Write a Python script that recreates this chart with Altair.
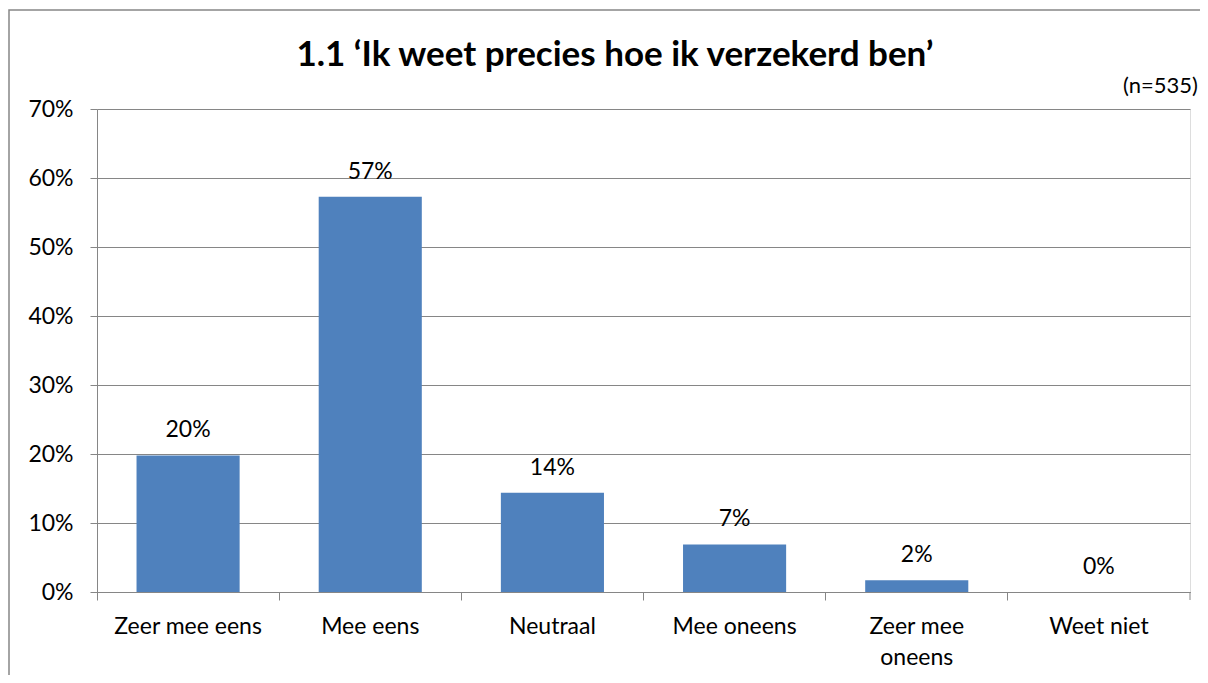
import altair as alt
import pandas as pd

categories = ["Zeer mee eens", "Mee eens", "Neutraal", "Mee oneens", "Zeer mee oneens", "Weet niet"]
values = [0.198, 0.573, 0.144, 0.069, 0.017, 0.0]
y_ticks = [0, 0.1, 0.2, 0.3, 0.4, 0.5, 0.6, 0.7]
title_text = "1.1 \u2018Ik weet precies hoe ik verzekerd ben\u2019"
note_text = "(n=535)"

df = pd.DataFrame({"cat": categories, "val": values})

W, H = 1093, 483
FONT = "Lato"
GRAY = "#868686"
BLUE = "#4F81BD"
FS = 23

xscale = alt.Scale(domain=categories, paddingInner=0, paddingOuter=0)
label_expr = "datum.value == 'Zeer mee oneens' ? ['Zeer mee', 'oneens'] : datum.value"

yenc = alt.Y(
    "val:Q",
    scale=alt.Scale(domain=[0, 0.7]),
    axis=alt.Axis(values=y_ticks, format=".0%", title=None, grid=True, gridColor=GRAY,
                  gridWidth=1, domainColor=GRAY, tickColor=GRAY, tickSize=7, labelPadding=17,
                  labelFontSize=FS, labelFont=FONT, labelColor="black"),
)

bars = alt.Chart(df).mark_bar(width=alt.RelativeBandSize(0.566), color=BLUE).encode(
    x=alt.X("cat:N", sort=categories, scale=xscale,
            axis=alt.Axis(title=None, labelAngle=0, ticks=False, domainColor=GRAY, orient="bottom",
                          labelFontSize=FS, labelFont=FONT, labelColor="black",
                          labelPadding=23, labelLineHeight=31, labelExpr=label_expr)),
    y=yenc,
)

ticks_layer = alt.Chart(df).mark_bar(opacity=0).encode(
    x=alt.X("cat:N", sort=categories, scale=xscale,
            axis=alt.Axis(title=None, labels=False, bandPosition=0, ticks=True, tickSize=8,
                          orient="bottom", tickColor=GRAY, domainColor=GRAY)),
    y=alt.Y("val:Q"),
)

labels = alt.Chart(df).mark_text(dy=-25, baseline="middle", fontSize=FS, font=FONT,
                                 color="black").encode(
    x=alt.X("cat:N", sort=categories, scale=xscale, axis=None),
    y=alt.Y("val:Q"),
    text=alt.Text("val:Q", format=".0%"),
)

end_tick = alt.Chart(alt.Data(values=[{}])).mark_rule(color=GRAY).encode(
    x=alt.value(W), y=alt.value(H), y2=alt.value(H + 8)
)

note = alt.Chart(alt.Data(values=[{}])).mark_text(
    align="right", baseline="alphabetic", fontSize=22, font=FONT, color="black"
).encode(x=alt.value(W + 8), y=alt.value(-16), text=alt.value(note_text))

title = alt.Chart(alt.Data(values=[{}])).mark_text(
    align="center", baseline="alphabetic", fontSize=35, fontWeight="bold", font=FONT,
    color="black"
).encode(x=alt.value(518), y=alt.value(-43), text=alt.value(title_text))

border = alt.Chart(alt.Data(values=[{}])).mark_rect(
    fillOpacity=0, stroke=GRAY, strokeWidth=1.5
).encode(x=alt.value(-88), x2=alt.value(W + 200), y=alt.value(-99), y2=alt.value(H + 200))

chart = alt.layer(border, ticks_layer, bars, labels, end_tick, note, title).resolve_axis(
    x="independent"
).properties(
    width=W, height=H,
    autosize=alt.AutoSizeParams(type="none"),
    padding={"left": 89, "top": 101, "right": 10, "bottom": 83},
).configure_view(strokeOpacity=0).configure(background="white")

chart.save("out.html", embed_options={"renderer": "svg", "actions": False})
